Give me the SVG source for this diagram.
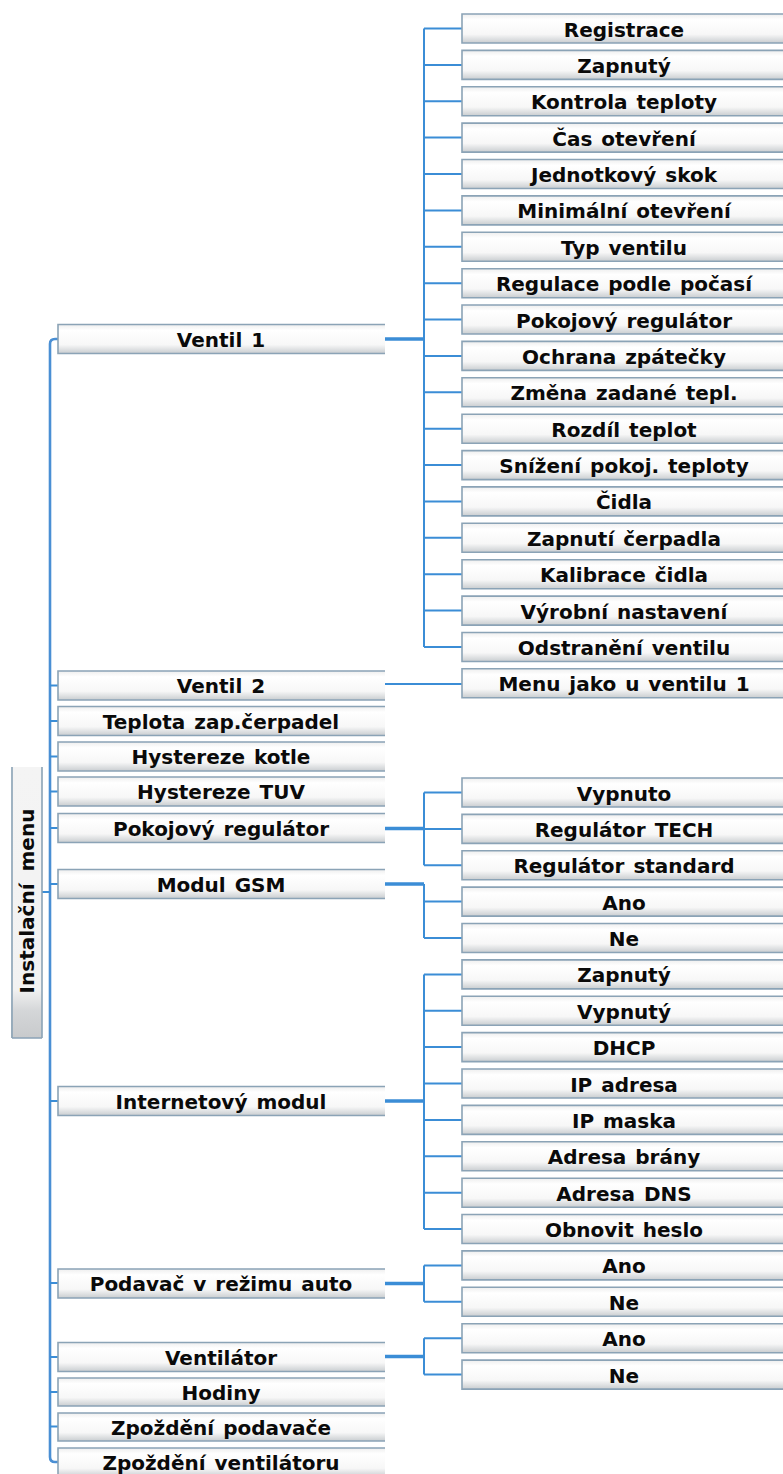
<svg xmlns="http://www.w3.org/2000/svg" width="783" height="1474" viewBox="0 0 783 1474">
<defs>
<linearGradient id="g" x1="0" y1="0" x2="0" y2="1">
<stop offset="0" stop-color="#eeeeee"/>
<stop offset="0.2" stop-color="#ffffff"/>
<stop offset="0.7" stop-color="#f7f7f7"/>
<stop offset="1" stop-color="#c9cdd0"/>
</linearGradient>
<linearGradient id="gr" x1="0" y1="0" x2="0" y2="1">
<stop offset="0" stop-color="#f4f4f4"/>
<stop offset="0.82" stop-color="#f2f2f2"/>
<stop offset="0.9" stop-color="#d4d6d8"/>
<stop offset="1" stop-color="#c8cacc"/>
</linearGradient>
</defs>
<style>
.node rect{fill:url(#g)}
.node path{fill:none;stroke:#8ba3b6;stroke-width:1.6}
.node text{font-family:"DejaVu Sans",Verdana,sans-serif;font-weight:bold;font-size:20px;word-spacing:2px;text-anchor:middle;fill:#0a0a0a}
.c path{fill:none;stroke:#3b8dd6;stroke-linecap:butt}
.c .thin{stroke-width:2}
.c .thick{stroke-width:3.5}
.c .trunk{stroke-width:2.6;stroke:#4a8fd4}
</style>
<rect width="783" height="1474" fill="#ffffff"/>

<g class="c" id="connectors">
<path class="trunk" d="M58 339H55Q50 339 50 344V1457Q50 1462 55 1462H58"/>
<path class="thin" d="M42 892H50"/>
<path class="thin" d="M50 685.5H58M50 721H58M50 756.5H58M50 791.5H58M50 828H58M50 884H58M50 1101H58M50 1283H58M50 1357H58M50 1392H58M50 1426.5H58"/>
<path class="thick" d="M385 339H424"/>
<path class="thin" d="M424 28.5V647M424 28.5H462M424 64.9H462M424 101.3H462M424 137.6H462M424 174H462M424 210.4H462M424 246.8H462M424 283.2H462M424 319.5H462M424 355.9H462M424 392.3H462M424 428.7H462M424 465.1H462M424 501.4H462M424 537.8H462M424 574.2H462M424 610.6H462M424 647H462"/>
<path class="thin" d="M385 684H462"/>
<path class="thick" d="M385 828.5H424"/>
<path class="thin" d="M424 792.5V865.2M424 792.5H462M424 828.9H462M424 865.2H462"/>
<path class="thick" d="M385 884H424"/>
<path class="thin" d="M424 884V938M424 901.6H462M424 938H462"/>
<path class="thick" d="M385 1101H424"/>
<path class="thin" d="M424 974.4V1229M424 974.4H462M424 1010.8H462M424 1047.1H462M424 1083.5H462M424 1119.9H462M424 1156.3H462M424 1192.7H462M424 1229H462"/>
<path class="thick" d="M385 1283.5H424"/>
<path class="thin" d="M424 1265.4V1301.8M424 1265.4H462M424 1301.8H462"/>
<path class="thick" d="M385 1356.5H424"/>
<path class="thin" d="M424 1338.2V1374.6M424 1338.2H462M424 1374.6H462"/>
</g>

<g id="root" class="node">
<rect x="11" y="767" width="31" height="271" style="fill:url(#gr)"/>
<path d="M12 767V1038M42 767V1038M12 1038H42"/>
<text transform="translate(34,901) rotate(-90)" style="word-spacing:5px">Instalační menu</text>
</g>

<g id="l-ventil1" class="node"><rect x="58" y="324.5" width="327" height="29"/><path d="M385 324.5H58V353.5H385"/><text x="221" y="346.5">Ventil 1</text></g>
<g id="l-ventil2" class="node"><rect x="58" y="671" width="327" height="29"/><path d="M385 671H58V700H385"/><text x="221" y="693">Ventil 2</text></g>
<g id="l-teplota" class="node"><rect x="58" y="706.5" width="327" height="29"/><path d="M385 706.5H58V735.5H385"/><text x="221" y="728.5">Teplota zap.čerpadel</text></g>
<g id="l-hystkotle" class="node"><rect x="58" y="742" width="327" height="29"/><path d="M385 742H58V771H385"/><text x="221" y="764">Hystereze kotle</text></g>
<g id="l-hysttuv" class="node"><rect x="58" y="777" width="327" height="29"/><path d="M385 777H58V806H385"/><text x="221" y="799">Hystereze TUV</text></g>
<g id="l-pokojovy" class="node"><rect x="58" y="813.5" width="327" height="29"/><path d="M385 813.5H58V842.5H385"/><text x="221" y="835.5">Pokojový regulátor</text></g>
<g id="l-gsm" class="node"><rect x="58" y="869.5" width="327" height="29"/><path d="M385 869.5H58V898.5H385"/><text x="221" y="891.5">Modul GSM</text></g>
<g id="l-internet" class="node"><rect x="58" y="1086.5" width="327" height="29"/><path d="M385 1086.5H58V1115.5H385"/><text x="221" y="1108.5">Internetový modul</text></g>
<g id="l-podavac" class="node"><rect x="58" y="1269" width="327" height="29"/><path d="M385 1269H58V1298H385"/><text x="221" y="1291">Podavač v režimu auto</text></g>
<g id="l-ventilator" class="node"><rect x="58" y="1342.5" width="327" height="29"/><path d="M385 1342.5H58V1371.5H385"/><text x="221" y="1364.5">Ventilátor</text></g>
<g id="l-hodiny" class="node"><rect x="58" y="1378" width="327" height="28"/><path d="M385 1378H58V1406H385"/><text x="221" y="1399.5">Hodiny</text></g>
<g id="l-zppodavace" class="node"><rect x="58" y="1413" width="327" height="28"/><path d="M385 1413H58V1441H385"/><text x="221" y="1434.5">Zpoždění podavače</text></g>
<g id="l-zpventilatoru" class="node"><rect x="58" y="1448" width="327" height="29"/><path d="M385 1448H58V1477H385"/><text x="221" y="1469.5">Zpoždění ventilátoru</text></g>

<g id="r-registrace" class="node"><rect x="462" y="14" width="330" height="29"/><path d="M792 14H462V43H792"/><text x="624" y="36.5">Registrace</text></g>
<g id="r-zapnuty" class="node"><rect x="462" y="50.4" width="330" height="29"/><path d="M792 50.4H462V79.4H792"/><text x="624" y="72.9">Zapnutý</text></g>
<g id="r-kontrola" class="node"><rect x="462" y="86.8" width="330" height="29"/><path d="M792 86.8H462V115.8H792"/><text x="624" y="109.3">Kontrola teploty</text></g>
<g id="r-cas" class="node"><rect x="462" y="123.1" width="330" height="29"/><path d="M792 123.1H462V152.1H792"/><text x="624" y="145.6">Čas otevření</text></g>
<g id="r-jednotkovy" class="node"><rect x="462" y="159.5" width="330" height="29"/><path d="M792 159.5H462V188.5H792"/><text x="624" y="182">Jednotkový skok</text></g>
<g id="r-minimalni" class="node"><rect x="462" y="195.9" width="330" height="29"/><path d="M792 195.9H462V224.9H792"/><text x="624" y="218.4">Minimální otevření</text></g>
<g id="r-typ" class="node"><rect x="462" y="232.3" width="330" height="29"/><path d="M792 232.3H462V261.3H792"/><text x="624" y="254.8">Typ ventilu</text></g>
<g id="r-regulace" class="node"><rect x="462" y="268.7" width="330" height="29"/><path d="M792 268.7H462V297.7H792"/><text x="624" y="291.2">Regulace podle počasí</text></g>
<g id="r-pokojovy" class="node"><rect x="462" y="305" width="330" height="29"/><path d="M792 305H462V334H792"/><text x="624" y="327.5">Pokojový regulátor</text></g>
<g id="r-ochrana" class="node"><rect x="462" y="341.4" width="330" height="29"/><path d="M792 341.4H462V370.4H792"/><text x="624" y="363.9">Ochrana zpátečky</text></g>
<g id="r-zmena" class="node"><rect x="462" y="377.8" width="330" height="29"/><path d="M792 377.8H462V406.8H792"/><text x="624" y="400.3">Změna zadané tepl.</text></g>
<g id="r-rozdil" class="node"><rect x="462" y="414.2" width="330" height="29"/><path d="M792 414.2H462V443.2H792"/><text x="624" y="436.7">Rozdíl teplot</text></g>
<g id="r-snizeni" class="node"><rect x="462" y="450.6" width="330" height="29"/><path d="M792 450.6H462V479.6H792"/><text x="624" y="473.1">Snížení pokoj. teploty</text></g>
<g id="r-cidla" class="node"><rect x="462" y="486.9" width="330" height="29"/><path d="M792 486.9H462V515.9H792"/><text x="624" y="509.4">Čidla</text></g>
<g id="r-zapnuti" class="node"><rect x="462" y="523.3" width="330" height="29"/><path d="M792 523.3H462V552.3H792"/><text x="624" y="545.8">Zapnutí čerpadla</text></g>
<g id="r-kalibrace" class="node"><rect x="462" y="559.7" width="330" height="29"/><path d="M792 559.7H462V588.7H792"/><text x="624" y="582.2">Kalibrace čidla</text></g>
<g id="r-vyrobni" class="node"><rect x="462" y="596.1" width="330" height="29"/><path d="M792 596.1H462V625.1H792"/><text x="624" y="618.6">Výrobní nastavení</text></g>
<g id="r-odstraneni" class="node"><rect x="462" y="632.5" width="330" height="29"/><path d="M792 632.5H462V661.5H792"/><text x="624" y="655">Odstranění ventilu</text></g>
<g id="r-menujako" class="node"><rect x="462" y="668.8" width="330" height="29"/><path d="M792 668.8H462V697.8H792"/><text x="624" y="691.3">Menu jako u ventilu 1</text></g>
<g id="r-vypnuto" class="node"><rect x="462" y="778" width="330" height="29"/><path d="M792 778H462V807H792"/><text x="624" y="800.5">Vypnuto</text></g>
<g id="r-regtech" class="node"><rect x="462" y="814.4" width="330" height="29"/><path d="M792 814.4H462V843.4H792"/><text x="624" y="836.9">Regulátor TECH</text></g>
<g id="r-regstd" class="node"><rect x="462" y="850.7" width="330" height="29"/><path d="M792 850.7H462V879.7H792"/><text x="624" y="873.2">Regulátor standard</text></g>
<g id="r-gsm-ano" class="node"><rect x="462" y="887.1" width="330" height="29"/><path d="M792 887.1H462V916.1H792"/><text x="624" y="909.6">Ano</text></g>
<g id="r-gsm-ne" class="node"><rect x="462" y="923.5" width="330" height="29"/><path d="M792 923.5H462V952.5H792"/><text x="624" y="946">Ne</text></g>
<g id="r-inet-zapnuty" class="node"><rect x="462" y="959.9" width="330" height="29"/><path d="M792 959.9H462V988.9H792"/><text x="624" y="982.4">Zapnutý</text></g>
<g id="r-inet-vypnuty" class="node"><rect x="462" y="996.3" width="330" height="29"/><path d="M792 996.3H462V1025.3H792"/><text x="624" y="1018.8">Vypnutý</text></g>
<g id="r-dhcp" class="node"><rect x="462" y="1032.6" width="330" height="29"/><path d="M792 1032.6H462V1061.6H792"/><text x="624" y="1055.1">DHCP</text></g>
<g id="r-ipadresa" class="node"><rect x="462" y="1069" width="330" height="29"/><path d="M792 1069H462V1098H792"/><text x="624" y="1091.5">IP adresa</text></g>
<g id="r-ipmaska" class="node"><rect x="462" y="1105.4" width="330" height="29"/><path d="M792 1105.4H462V1134.4H792"/><text x="624" y="1127.9">IP maska</text></g>
<g id="r-brana" class="node"><rect x="462" y="1141.8" width="330" height="29"/><path d="M792 1141.8H462V1170.8H792"/><text x="624" y="1164.3">Adresa brány</text></g>
<g id="r-dns" class="node"><rect x="462" y="1178.2" width="330" height="29"/><path d="M792 1178.2H462V1207.2H792"/><text x="624" y="1200.7">Adresa DNS</text></g>
<g id="r-heslo" class="node"><rect x="462" y="1214.5" width="330" height="29"/><path d="M792 1214.5H462V1243.5H792"/><text x="624" y="1237">Obnovit heslo</text></g>
<g id="r-pod-ano" class="node"><rect x="462" y="1250.9" width="330" height="29"/><path d="M792 1250.9H462V1279.9H792"/><text x="624" y="1273.4">Ano</text></g>
<g id="r-pod-ne" class="node"><rect x="462" y="1287.3" width="330" height="29"/><path d="M792 1287.3H462V1316.3H792"/><text x="624" y="1309.8">Ne</text></g>
<g id="r-ven-ano" class="node"><rect x="462" y="1323.7" width="330" height="29"/><path d="M792 1323.7H462V1352.7H792"/><text x="624" y="1346.2">Ano</text></g>
<g id="r-ven-ne" class="node"><rect x="462" y="1360.1" width="330" height="29"/><path d="M792 1360.1H462V1389.1H792"/><text x="624" y="1382.6">Ne</text></g>
</svg>
